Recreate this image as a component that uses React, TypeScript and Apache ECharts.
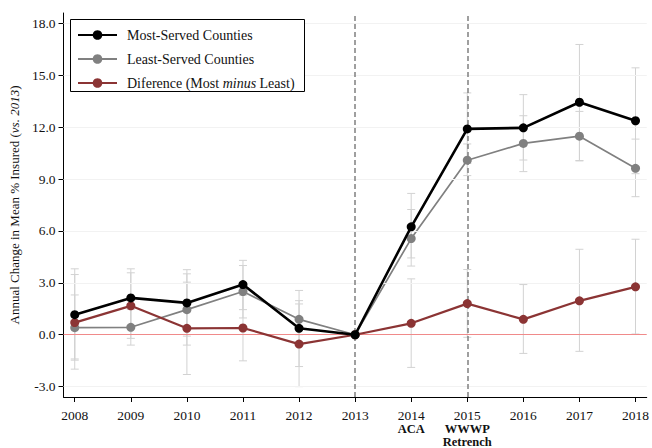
import React, { useEffect, useRef } from "react";
import * as echarts from "echarts";

const years = [2008, 2009, 2010, 2011, 2012, 2013, 2014, 2015, 2016, 2017, 2018];
const yTicks = [-3, 0, 3, 6, 9, 12, 15, 18];
const eventLines = [2013, 2015];

const mostServed = [1.16, 2.13, 1.84, 2.9, 0.37, 0, 6.24, 11.9, 11.96, 13.44, 12.37];
const leastServed = [0.41, 0.43, 1.45, 2.5, 0.89, 0, 5.56, 10.09, 11.06, 11.48, 9.62];
const difference = [0.7, 1.67, 0.37, 0.39, -0.54, 0, 0.66, 1.8, 0.89, 1.96, 2.77];

const mostLow = [-1.47, 0.45, -0.08, 1.45, -1.84, 0, 4.44, 9.9, 10.1, 10.07, 9.31];
const mostHigh = [3.81, 3.81, 3.76, 4.3, 2.56, 0, 8.17, 13.98, 13.88, 16.78, 15.43];
const leastLow = [-1.4, -0.6, -0.6, 0.97, 0.0, 0, 3.97, 9.2, 9.43, 10.05, 7.98];
const leastHigh = [2.3, 1.46, 3.52, 4.0, 1.78, 0, 7.24, 11.03, 12.66, 12.91, 11.31];
const diffLow = [-1.99, -0.21, -2.3, -1.51, -3.0, 0, -1.89, -0.15, -1.08, -0.96, 0.04];
const diffHigh = [3.48, 3.58, 3.04, 2.29, 1.97, 0, 3.23, 3.77, 2.9, 4.94, 5.52];

const NAME_MOST = "Most-Served Counties";
const NAME_LEAST = "Least-Served Counties";
const NAME_DIFF = "Diference (Most minus Least)";

const FONT = "'Liberation Serif', 'DejaVu Serif', 'Times New Roman', serif";

const errData = (lo: number[], hi: number[]) => years.map((y, i) => [y, lo[i], hi[i]]);

const errorSeries = (lo: number[], hi: number[]) => ({
  type: "custom",
  silent: true,
  z: 1,
  data: errData(lo, hi),
  encode: { x: 0, y: [1, 2] },
  renderItem: (params: any, api: any) => {
    const x = api.value(0);
    const l = api.value(1);
    const h = api.value(2);
    if (l === h) return null;
    const p1 = api.coord([x, l]);
    const p2 = api.coord([x, h]);
    const cw = 4;
    const style = { stroke: "#d2d2d2", lineWidth: 1 };
    return {
      type: "group",
      children: [
        { type: "line", shape: { x1: p1[0], y1: p1[1], x2: p2[0], y2: p2[1] }, style },
        { type: "line", shape: { x1: p1[0] - cw, y1: p1[1], x2: p1[0] + cw, y2: p1[1] }, style },
        { type: "line", shape: { x1: p2[0] - cw, y1: p2[1], x2: p2[0] + cw, y2: p2[1] }, style },
      ],
    };
  },
});

export default function App() {
  const ref = useRef<HTMLDivElement>(null);
  useEffect(() => {
    if (!ref.current) return;
    const chart = echarts.init(ref.current, undefined, { renderer: "svg" });
    const option: any = {
      animation: false,
      textStyle: { fontFamily: FONT },
      grid: { left: 63, right: 0, top: 13, bottom: 49, containLabel: false },
      graphic: [
        {
          type: "rect",
          z: 50,
          shape: { x: 70.5, y: 19.5, width: 234, height: 72 },
          style: { fill: "#fff", stroke: "#000", lineWidth: 1 },
        },
      ],
      legend: {
        z: 60,
        orient: "vertical",
        left: 77,
        top: 28,
        itemWidth: 39,
        itemHeight: 12,
        itemGap: 10,
        padding: 0,
        data: [NAME_MOST, NAME_LEAST, NAME_DIFF],
        formatter: (name: string) =>
          name === NAME_DIFF
            ? "{n|Diference (Most }{i|minus}{n| Least)}"
            : "{n|" + name + "}",
        textStyle: {
          fontFamily: FONT,
          fontSize: 14,
          color: "#111",
          padding: [0, 0, 0, 5],
          rich: {
            n: { fontFamily: FONT, fontSize: 14, color: "#111" },
            i: { fontFamily: FONT, fontSize: 14, color: "#111", fontStyle: "italic" },
          },
        },
      },
      xAxis: {
        type: "value",
        min: 2007.8,
        max: 2018.2,
        splitLine: { show: false },
        axisLine: { show: true, onZero: false, lineStyle: { color: "#000", width: 1 } },
        axisTick: { show: true, length: 5, customValues: years, lineStyle: { color: "#000" } },
        axisLabel: {
          customValues: years,
          margin: 11,
          fontFamily: FONT,
          fontSize: 13.5,
          color: "#111",
          lineHeight: 14,
          formatter: (v: number) => {
            if (v === 2014) return "{y|2014}\n{b|ACA}";
            if (v === 2015) return "{y|2015}\n{b|WWWP}\n{b|Retrench}";
            return "{y|" + v + "}";
          },
          rich: {
            y: { fontFamily: FONT, fontSize: 13.5, color: "#111", lineHeight: 14 },
            b: { fontFamily: FONT, fontSize: 12.5, color: "#111", fontWeight: "bold", lineHeight: 13 },
          },
        },
      },
      yAxis: {
        type: "value",
        min: -3.6,
        max: 18.6,
        name: "{a|Annual Change in Mean % Insured (}{i|vs. 2013}{a|)}",
        nameLocation: "middle",
        nameGap: 39,
        nameTextStyle: {
          rich: {
            a: { fontFamily: FONT, fontSize: 13, color: "#111" },
            i: { fontFamily: FONT, fontSize: 13, color: "#111", fontStyle: "italic" },
          },
        },
        splitLine: { show: false },
        axisLine: { show: true, onZero: false, lineStyle: { color: "#000", width: 1 } },
        axisTick: { show: true, length: 5, customValues: yTicks, lineStyle: { color: "#000" } },
        axisLabel: {
          customValues: yTicks,
          margin: 8,
          fontFamily: FONT,
          fontSize: 13.5,
          color: "#111",
          formatter: (v: number) => v.toFixed(1),
        },
      },
      series: [
        {
          type: "line",
          name: "grid",
          data: [],
          silent: true,
          z: 0,
          markLine: {
            silent: true,
            symbol: "none",
            label: { show: false },
            lineStyle: { color: "#f2f2f2", width: 1, type: "solid" },
            data: yTicks.filter((t) => t !== 0).map((t) => ({ yAxis: t })),
          },
        },
        errorSeries(mostLow, mostHigh),
        errorSeries(leastLow, leastHigh),
        errorSeries(diffLow, diffHigh),
        {
          type: "line",
          name: "refs",
          data: [],
          silent: true,
          z: 2,
          markLine: {
            silent: true,
            symbol: "none",
            label: { show: false },
            data: [
              { yAxis: 0, lineStyle: { color: "#f08a8a", width: 1, type: "solid" } },
              ...eventLines.map((x) => ({
                xAxis: x,
                lineStyle: { color: "#808080", width: 1.5, type: [5, 3] },
              })),
            ],
          },
        },
        {
          type: "line",
          name: NAME_LEAST,
          z: 4,
          data: years.map((y, i) => [y, leastServed[i]]),
          symbol: "circle",
          symbolSize: 9,
          itemStyle: { color: "#808080" },
          lineStyle: { color: "#808080", width: 1.7 },
        },
        {
          type: "line",
          name: NAME_DIFF,
          z: 5,
          data: years.map((y, i) => [y, difference[i]]),
          symbol: "circle",
          symbolSize: 9,
          itemStyle: { color: "#8b3434" },
          lineStyle: { color: "#8b3434", width: 2.2 },
        },
        {
          type: "line",
          name: NAME_MOST,
          z: 6,
          data: years.map((y, i) => [y, mostServed[i]]),
          symbol: "circle",
          symbolSize: 9,
          itemStyle: { color: "#000" },
          lineStyle: { color: "#000", width: 2.6 },
        },
      ],
    };
    chart.setOption(option);
    return () => chart.dispose();
  }, []);
  return (
    <div
      ref={ref}
      style={{ position: "fixed", left: 0, top: 0, width: 652, height: 448, background: "#fff" }}
    />
  );
}
